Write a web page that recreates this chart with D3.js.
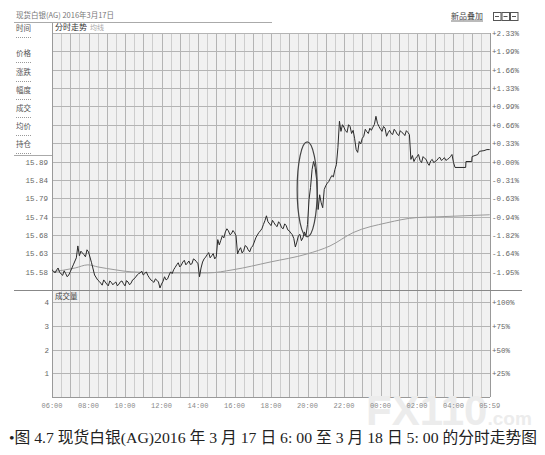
<!DOCTYPE html>
<html><head><meta charset="utf-8">
<script src="https://cdn.jsdelivr.net/npm/d3@7"></script>
<style>body{margin:0;background:#fff;} svg{display:block}</style>
</head><body><svg id="c" width="545" height="455"></svg>
<script>
// ---------- data ----------
const preClose = 15.89;
const priceStep = 0.0524;
const times = ["06:00","06:10","06:20","06:30","06:40","06:50","07:00","07:10","07:20","07:25","07:30","07:40","07:50","08:00","08:10","08:20","08:30","08:40","08:50","09:00","09:10","09:20","09:30","09:40","09:50","10:00","10:10","10:20","10:30","10:40","10:50","11:00","11:10","11:20","11:30","11:40","11:50","11:55","12:00","12:10","12:20","12:30","12:40","12:50","13:00","13:10","13:20","13:30","13:40","13:50","14:00","14:05","14:10","14:20","14:30","14:40","14:50","15:00","15:05","15:10","15:20","15:30","15:40","15:50","16:00","16:05","16:10","16:20","16:30","16:40","16:50","17:00","17:10","17:20","17:30","17:40","17:45","17:50","18:00","18:10","18:20","18:30","18:40","18:50","19:00","19:10","19:20","19:30","19:40","19:50","19:55","20:00","20:05","20:10","20:15","20:20","20:25","20:30","20:35","20:40","20:50","20:55","21:00","21:10","21:20","21:30","21:35","21:40","21:45","21:50","22:00","22:10","22:20","22:30","22:40","22:45","22:50","23:00","23:10","23:20","23:30","23:40","23:45","23:50","00:00","00:10","00:20","00:30","00:40","00:50","01:00","01:10","01:20","01:30","01:35","01:40","01:45","01:50","02:00","02:10","02:20","02:30","02:40","02:50","03:00","03:10","03:20","03:30","03:40","03:50","03:55","04:00","04:05","04:40","04:41","05:00","05:01","05:20","05:25","05:40","05:50","05:59"];
const prices = [15.581,15.572,15.586,15.569,15.578,15.561,15.575,15.595,15.615,15.649,15.621,15.629,15.618,15.632,15.601,15.566,15.552,15.543,15.552,15.540,15.549,15.538,15.546,15.540,15.549,15.535,15.546,15.543,15.555,15.566,15.572,15.566,15.575,15.558,15.549,15.555,15.546,15.529,15.540,15.561,15.555,15.575,15.581,15.595,15.589,15.603,15.595,15.606,15.598,15.609,15.598,15.561,15.586,15.612,15.624,15.615,15.627,15.618,15.667,15.652,15.678,15.689,15.692,15.684,15.687,15.678,15.626,15.644,15.635,15.647,15.632,15.649,15.672,15.687,15.698,15.721,15.735,15.718,15.707,15.715,15.704,15.712,15.698,15.707,15.692,15.681,15.646,15.678,15.664,15.689,15.678,15.710,15.781,15.816,15.867,15.890,15.873,15.838,15.753,15.795,15.758,15.810,15.821,15.833,15.850,15.867,15.881,15.930,16.005,15.976,15.987,15.973,15.990,15.979,15.924,15.916,15.947,15.956,15.982,15.970,15.979,15.996,16.019,15.999,15.982,15.990,15.962,15.979,15.967,15.976,15.964,15.973,15.964,15.973,15.967,15.896,15.907,15.890,15.904,15.893,15.904,15.896,15.879,15.896,15.890,15.899,15.893,15.901,15.896,15.904,15.910,15.887,15.873,15.873,15.890,15.890,15.904,15.910,15.919,15.921,15.924,15.924];
// extra in-between ticks
const tickTimes = ["06:05","06:15","06:25","06:35","06:45","06:55","07:35","07:45","07:55","08:35","08:45","08:55","09:05","09:15","09:25","09:35","09:45","09:55","10:05","10:15","10:25","10:35","10:45","10:55","11:05","11:15","11:25","11:35","11:45","12:05","12:15","12:25","12:35","12:45","12:55","13:05","13:15","13:25","13:35","13:45","13:55","14:15","14:25","14:35","14:45","14:55","15:15","15:25","15:35","15:45","15:55","16:15","16:25","16:35","16:45","16:55","17:05","17:15","17:25","17:35","18:05","18:15","18:25","18:35","18:45","18:55","19:05","19:15","19:25","19:35","19:45","20:45","21:05","21:15","21:25","21:55","22:05","22:15","22:25","22:35","22:55","23:05","23:15","23:25","23:35","23:55","00:05","00:15","00:25","00:35","00:45","00:55","01:05","01:15","01:25","01:55","02:05","02:15","02:25","02:35","02:45","02:55","03:05","03:15","03:25","03:35","03:45"];
const tickPrices = [15.577,15.580,15.574,15.565,15.570,15.566,15.634,15.624,15.638,15.548,15.537,15.546,15.535,15.545,15.543,15.535,15.547,15.541,15.550,15.538,15.552,15.560,15.570,15.577,15.570,15.565,15.552,15.545,15.551,15.548,15.552,15.566,15.570,15.588,15.601,15.594,15.608,15.600,15.596,15.612,15.604,15.603,15.617,15.630,15.621,15.612,15.665,15.672,15.698,15.681,15.693,15.637,15.629,15.650,15.638,15.644,15.660,15.680,15.692,15.710,15.722,15.708,15.718,15.701,15.712,15.695,15.686,15.670,15.660,15.682,15.672,15.772,15.828,15.842,15.846,15.995,15.978,15.995,15.970,15.955,15.940,15.962,15.975,15.985,15.988,15.990,15.976,15.985,15.972,15.970,15.982,15.968,15.978,15.970,15.978,15.899,15.910,15.887,15.899,15.885,15.892,15.887,15.893,15.902,15.896,15.893,15.899];
const avgTimes = ["06:00","07:16","07:58","08:31","09:27","10:20","12:12","14:33","15:55","17:57","19:58","21:14","22:30","00:21","02:00","03:06","05:59"];
const avgPrices = [15.575,15.586,15.595,15.589,15.581,15.575,15.572,15.572,15.581,15.603,15.626,15.649,15.687,15.715,15.730,15.732,15.738];
const priceTickLabels = ["15.89","15.84","15.79","15.74","15.68","15.63","15.58"];
const pctTickLabels = ["+2.33%","+1.99%","+1.66%","+1.33%","+0.99%","+0.66%","+0.33%","+0.00%","-0.31%","-0.63%","-0.94%","-1.82%","-1.64%","-1.95%"];
const volTickLabels = ["4","3","2","1"];
const volPctLabels = ["+100%","+75%","+50%","+25%"];
const timeTickLabels = ["06:00","08:00","10:00","12:00","14:00","16:00","18:00","20:00","22:00","00:00","02:00","04:00","05:59"];
const menuItems = ["时间","价格","涨跌","幅度","成交","均价","持仓"];
const ellipseTimes = ["19:26","20:32"];
const ellipsePrices = [15.675, 15.946];

// ---------- helpers ----------
const toMin = s => { const [h,m] = s.split(":").map(Number); let v = h*60+m-360; if (v<0) v+=1440; return v; };
const svg = d3.select("#c");
const L = 52, R = 490, PT = 33, PB = 290, VT = 291, VB = 397, VTop = 302;
const x = d3.scaleLinear().domain([0,1440]).range([L,R]);
const y = d3.scaleLinear().domain([preClose-7*priceStep, preClose+7*priceStep]).range([PB,PT]);
const yv = d3.scaleLinear().domain([0,4]).range([VB,VTop]);
const mono = "'Liberation Mono','DejaVu Sans Mono',monospace";
const cjk = "'Noto Sans CJK SC',sans-serif";

// backgrounds
svg.append("rect").attr("x",L).attr("y",PT).attr("width",R-L).attr("height",PB-PT).attr("fill","#f1f1f1");
svg.append("rect").attr("x",L).attr("y",VT).attr("width",R-L).attr("height",VB-VT).attr("fill","#f1f1f1");

// vertical grid
const vgrid = d3.range(30,1440,30);
[[PT,PB],[VT,VB]].forEach(([a,b]) => {
  svg.append("g").selectAll("line").data(vgrid).join("line")
    .attr("x1",d=>Math.round(x(d))+0.5).attr("x2",d=>Math.round(x(d))+0.5)
    .attr("y1",a).attr("y2",b)
    .attr("stroke",d=>d%60===0?"#b4b4b4":"#cdcdcd").attr("stroke-width",1);
});
// horizontal grid price
const gridVals = d3.range(7,-8,-1).map(k=>preClose+k*priceStep);
svg.append("g").selectAll("line").data(gridVals).join("line")
  .attr("x1",L).attr("x2",R)
  .attr("y1",d=>Math.round(y(d))+0.5).attr("y2",d=>Math.round(y(d))+0.5)
  .attr("stroke","#b4b4b4");
// horizontal grid volume
svg.append("g").selectAll("line").data([1,2,3,4]).join("line")
  .attr("x1",L).attr("x2",R)
  .attr("y1",d=>Math.round(yv(d))+0.5).attr("y2",d=>Math.round(yv(d))+0.5)
  .attr("stroke","#b4b4b4");

// frames
svg.append("line").attr("x1",L+0.5).attr("x2",L+0.5).attr("y1",22).attr("y2",VB).attr("stroke","#999");
svg.append("line").attr("x1",R+0.5).attr("x2",R+0.5).attr("y1",PT).attr("y2",VB).attr("stroke","#999");
svg.append("line").attr("x1",14).attr("x2",272).attr("y1",22.5).attr("y2",22.5).attr("stroke","#aaa");
svg.append("line").attr("x1",14).attr("x2",522).attr("y1",290.5).attr("y2",290.5).attr("stroke","#888");
svg.append("line").attr("x1",L).attr("x2",R).attr("y1",VB+0.5).attr("y2",VB+0.5).attr("stroke","#999");
svg.append("line").attr("x1",14).attr("x2",L).attr("y1",155.5).attr("y2",155.5).attr("stroke","#aaa");

// left menu
menuItems.forEach((t,i)=>{
  const yy = [31,56,75,93,111,129,147][i];
  svg.append("text").attr("x",16).attr("y",yy).text(t)
    .attr("font-family",cjk).attr("font-size",7.5).attr("fill","#555");
  svg.append("line").attr("x1",16).attr("x2",31).attr("y1",yy+6.5).attr("y2",yy+6.5)
    .attr("stroke","#999").attr("stroke-dasharray","1,1");
});

// header texts
svg.append("text").attr("x",16).attr("y",18).text("现货白银(AG) 2016年3月17日")
  .attr("font-family",cjk).attr("font-size",7.5).attr("fill","#777");
svg.append("text").attr("x",55).attr("y",30).text("分时走势")
  .attr("font-family",cjk).attr("font-size",8).attr("fill","#333");
svg.append("text").attr("x",90).attr("y",30).text("均线")
  .attr("font-family",cjk).attr("font-size",7).attr("fill","#aaa");
svg.append("text").attr("x",451).attr("y",19).text("新品叠加")
  .attr("font-family",cjk).attr("font-size",8).attr("fill","#444");
svg.append("line").attr("x1",451).attr("x2",483).attr("y1",21).attr("y2",21).attr("stroke","#777");
[0,1,2].forEach(i=>{
  svg.append("rect").attr("x",493.5+i*8.5).attr("y",12.5).attr("width",7.5).attr("height",8)
    .attr("fill","none").attr("stroke","#555");
  svg.append("line").attr("x1",495+i*8.5).attr("x2",499+i*8.5).attr("y1",16.5).attr("y2",16.5).attr("stroke","#555");
});

// watermark (drawn beneath the labels)
const wm = svg.append("text").attr("x",366).attr("y",425)
  .attr("font-family","'Liberation Sans',sans-serif").attr("font-weight","bold").attr("fill","#ececec");
wm.append("tspan").attr("font-size",42).text("FX110");
wm.append("tspan").attr("font-size",19).text(".com");

// price axis labels
svg.append("g").selectAll("text").data(priceTickLabels).join("text")
  .attr("x",48).attr("y",(d,i)=>y(preClose-i*priceStep)+3).attr("text-anchor","end")
  .text(d=>d).attr("font-family",mono).attr("font-size",7.5).attr("fill","#666");
svg.append("g").selectAll("text").data(pctTickLabels).join("text")
  .attr("x",492).attr("y",(d,i)=>y(preClose+(7-i)*priceStep)+3)
  .text(d=>d).attr("font-family",mono).attr("font-size",7.5).attr("fill","#666");

// volume labels
svg.append("text").attr("x",55).attr("y",299).text("成交量")
  .attr("font-family",cjk).attr("font-size",7.5).attr("fill","#444");
svg.append("g").selectAll("text").data(volTickLabels).join("text")
  .attr("x",49).attr("y",(d)=>yv(+d)+3).attr("text-anchor","end")
  .text(d=>d).attr("font-family",mono).attr("font-size",7.5).attr("fill","#666");
svg.append("g").selectAll("text").data(volPctLabels).join("text")
  .attr("x",492).attr("y",(d,i)=>yv(4-i)+3)
  .text(d=>d).attr("font-family",mono).attr("font-size",7.5).attr("fill","#666");

// time labels
svg.append("g").selectAll("text").data(timeTickLabels).join("text")
  .attr("x",d=>x(toMin(d))).attr("y",408).attr("text-anchor","middle")
  .text(d=>d).attr("font-family",mono).attr("font-size",7).attr("fill","#888");

// average line
const avgData = avgTimes.map((t,i)=>[toMin(t),avgPrices[i]]);
svg.append("path").datum(avgData)
  .attr("d",d3.line().x(d=>x(d[0])).y(d=>y(d[1])).curve(d3.curveMonotoneX))
  .attr("fill","none").attr("stroke","#9a9a9a").attr("stroke-width",1);

// price line
const priceData = times.map((t,i)=>[toMin(t),prices[i]])
  .concat(tickTimes.map((t,i)=>[toMin(t),tickPrices[i]]))
  .sort((a,b)=>a[0]-b[0]);
svg.append("path").datum(priceData)
  .attr("d",d3.line().x(d=>x(d[0])).y(d=>y(d[1])))
  .attr("fill","none").attr("stroke","#2a2a2a").attr("stroke-width",1);

// ellipse annotation
const ex0 = x(toMin(ellipseTimes[0])), ex1 = x(toMin(ellipseTimes[1]));
const ey0 = y(ellipsePrices[1]), ey1 = y(ellipsePrices[0]);
svg.append("ellipse").attr("cx",(ex0+ex1)/2).attr("cy",(ey0+ey1)/2)
  .attr("rx",(ex1-ex0)/2).attr("ry",(ey1-ey0)/2)
  .attr("fill","none").attr("stroke","#444").attr("stroke-width",1.2);

// caption
svg.append("text").attr("x",9).attr("y",443)
  .text("•图 4.7  现货白银(AG)2016 年 3 月 17 日 6: 00 至 3 月 18 日 5: 00 的分时走势图")
  .attr("font-family","'Liberation Serif','Noto Sans CJK SC',serif").attr("font-size",15.5).attr("fill","#222")
  .attr("textLength",528).attr("lengthAdjust","spacingAndGlyphs");
</script></body></html>
